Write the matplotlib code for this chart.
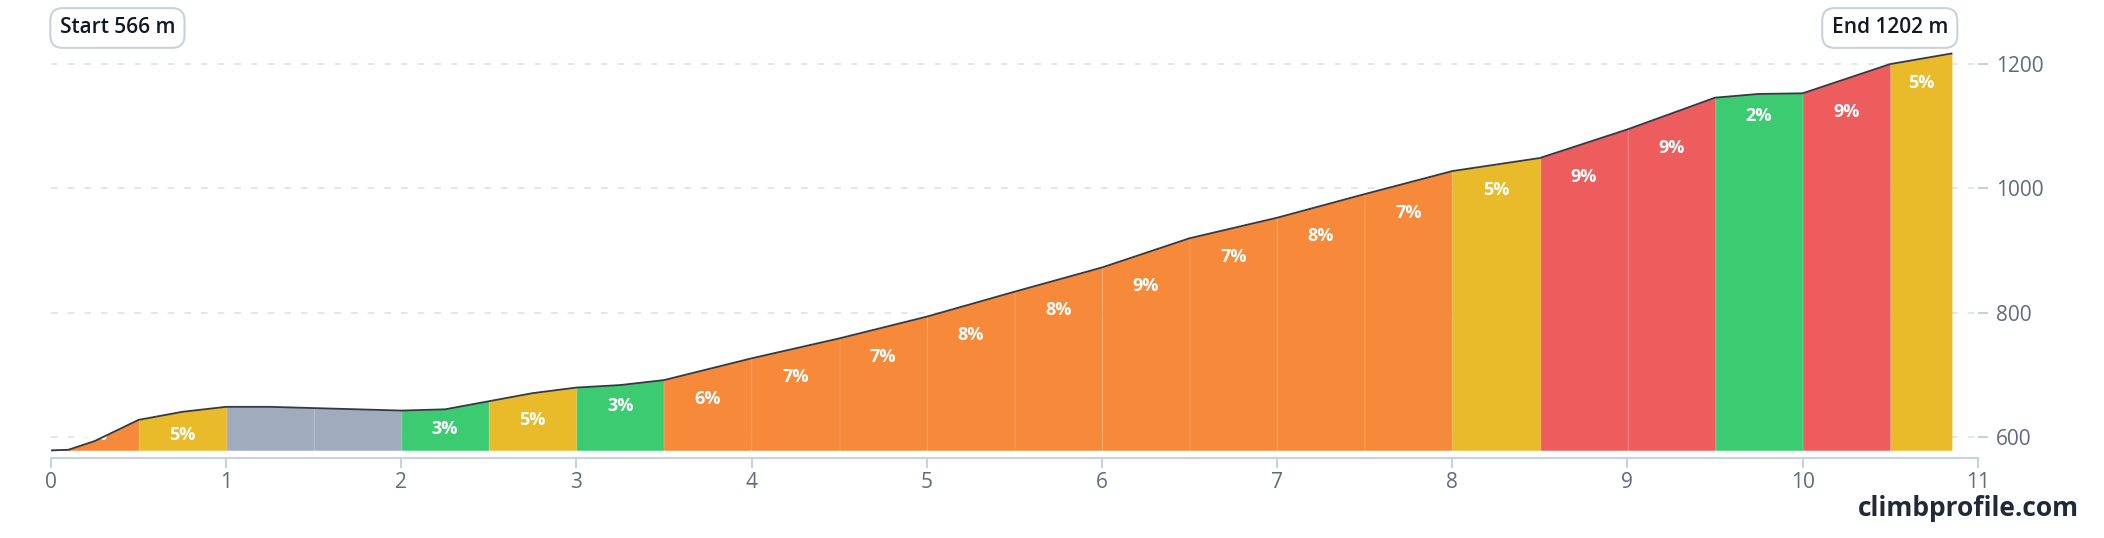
import matplotlib
matplotlib.use("Agg")
import matplotlib.pyplot as plt
import numpy as np

plt.rcParams["font.family"] = ["Open Sans", "DejaVu Sans"]

dist = [0, 0.1, 0.25, 0.5, 0.75, 1.0, 1.25, 1.5, 1.75, 2.0, 2.25, 2.5, 2.75, 3.0, 3.25, 3.5,
        4.0, 4.5, 5.0, 5.5, 6.0, 6.5, 7.0, 7.5, 8.0, 8.5, 9.0, 9.5, 9.75, 10.0, 10.5, 10.85]
elev = [579, 580, 594, 628, 641, 649, 649, 647, 645, 643, 645, 658, 671, 680, 684, 692,
        727, 759, 794, 834, 873, 920, 953, 991, 1028, 1049, 1095, 1146, 1152, 1153, 1200, 1217]
seg_start = [0, 0.5, 1.0, 1.5, 2.0, 2.5, 3.0, 3.5, 4.0, 4.5, 5.0, 5.5, 6.0, 6.5, 7.0, 7.5,
             8.0, 8.5, 9.0, 9.5, 10.0, 10.5]
seg_end = seg_start[1:] + [10.85]
seg_grade = ["4%", "5%", "", "", "3%", "5%", "3%", "6%", "7%", "7%", "8%", "8%", "9%", "7%",
             "8%", "7%", "5%", "9%", "9%", "2%", "9%", "5%"]
seg_color = ["o", "y", "g", "g", "gr", "y", "gr", "o", "o", "o", "o", "o", "o", "o",
             "o", "o", "y", "r", "r", "gr", "r", "y"]
palette = {"o": "#F6893A", "y": "#E9BA2A", "g": "#A0ACBD", "gr": "#3DCB72", "r": "#EE5D5D"}

fig = plt.figure(figsize=(21.04, 5.38), dpi=100)
ax = fig.add_axes([0.0242, 0.149, 0.9158, 0.851])
base = 580
ax.set_xlim(0, 11)
ax.set_ylim(567, 1303)
xs = np.linspace(0, dist[-1], 2000)
ys = np.interp(xs, dist, elev)
for s, e, g, c in zip(seg_start, seg_end, seg_grade, seg_color):
    m = (xs >= s) & (xs <= e + 1e-9)
    ax.fill_between(xs[m], base, ys[m], color=palette[c], lw=0.6, ec=palette[c], zorder=2)
    if g:
        ly = max(np.interp(s, dist, elev) - 30, 603)
        ax.text((s + e) / 2, ly, g, color="white", fontsize=13, fontweight="bold",
                ha="center", va="center", zorder=4)
ax.plot(dist, elev, color="#333a44", lw=1.3, zorder=5)
for gy in [600, 800, 1000, 1200]:
    ax.axhline(gy, color="#dde2ea", lw=1.2, ls=(0, (4, 6)), zorder=1)

for sp in ["top", "left", "right"]:
    ax.spines[sp].set_visible(False)
ax.spines["bottom"].set_color("#c9d1dc")
ax.spines["bottom"].set_linewidth(1.5)
ax.set_xticks(range(12))
ax.tick_params(axis="x", colors="#c9d1dc", labelcolor="#5f6b7c", labelsize=15, length=7, width=1.5)
ax.yaxis.tick_right()
ax.set_yticks([600, 800, 1000, 1200])
ax.tick_params(axis="y", colors="#c9d1dc", labelcolor="#5f6b7c", labelsize=15, length=7, width=1.5, pad=6)

box = dict(boxstyle="round,pad=0.45,rounding_size=0.6", fc="white", ec="#c9d1dc", lw=1.5)
ax.text(0.05, 1258, "Start 566 m", fontsize=15, fontweight="semibold", color="#111827",
        ha="left", va="center", bbox=box)
ax.text(10.83, 1258, "End 1202 m", fontsize=15, fontweight="semibold", color="#111827",
        ha="right", va="center", bbox=box)
fig.text(0.988, 0.055, "climbprofile.com", fontsize=19, fontweight="bold", color="#1f2937",
         ha="right", va="center")
fig.savefig("out.png", dpi=100)
